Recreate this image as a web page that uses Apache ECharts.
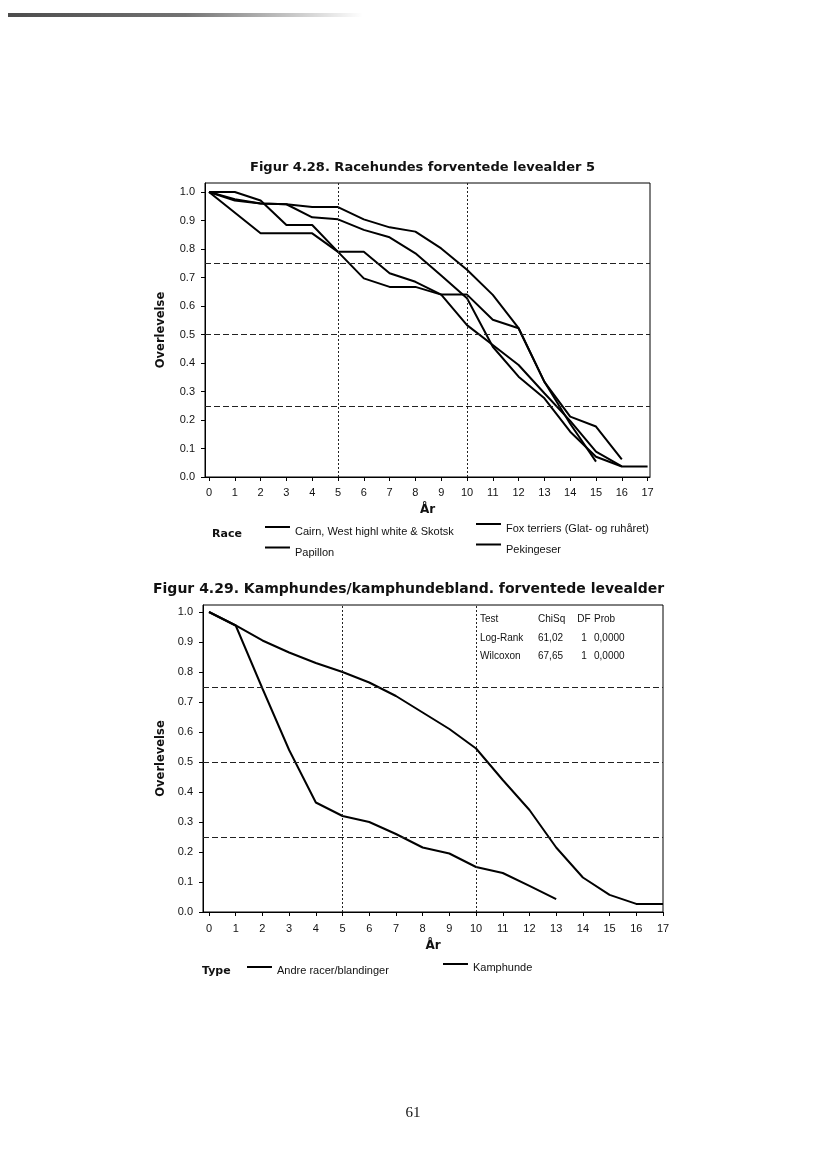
<!DOCTYPE html>
<html>
<head>
<meta charset="utf-8">
<script src="https://cdn.jsdelivr.net/npm/echarts@6.0.0/dist/echarts.min.js"></script>
<style>
html,body{margin:0;padding:0;background:#ffffff;}
#c{width:826px;height:1169px;}
</style>
</head>
<body>
<div id="c"></div>
<script>
// ---------- data ----------
const xTickValues = [0,1,2,3,4,5,6,7,8,9,10,11,12,13,14,15,16,17];
const yTickValues = [0,0.1,0.2,0.3,0.4,0.5,0.6,0.7,0.8,0.9,1.0];
const refSurvival = [0.25, 0.5, 0.75];
const refAges = [5, 10];

// Figur 4.28
const title1 = 'Figur 4.28. Racehundes forventede levealder 5';
const cairnName = 'Cairn, West highl white & Skotsk';
const foxName = 'Fox terriers (Glat- og ruhåret)';
const papillonName = 'Papillon';
const pekingName = 'Pekingeser';

const cairnAges = [0,2,3,4,5,6,7,8,9,10,11,12,13,14,15,16];
const cairnSurv = [1.0,0.855,0.855,0.855,0.79,0.79,0.715,0.685,0.64,0.64,0.552,0.522,0.334,0.212,0.177,0.062];
const papillonAges = [0,1,2,3,4,5,6,7,8,9,10,11,12,13,14,15,16,17];
const papillonSurv = [1.0,1.0,0.97,0.884,0.884,0.79,0.697,0.667,0.667,0.64,0.533,0.463,0.393,0.294,0.197,0.089,0.037,0.037];
const foxAges = [0,1,2,3,4,5,6,7,8,9,10,11,12,13,14,15,16];
const foxSurv = [1.0,0.975,0.96,0.957,0.911,0.904,0.867,0.841,0.785,0.707,0.627,0.457,0.352,0.276,0.159,0.071,0.037];
const pekingAges = [0,1,2,3,4,5,6,7,8,9,10,11,12,13,14,15];
const pekingSurv = [1.0,0.97,0.96,0.957,0.947,0.947,0.904,0.876,0.861,0.802,0.727,0.639,0.522,0.334,0.187,0.054];

// Figur 4.29
const title2 = 'Figur 4.29. Kamphundes/kamphundebland. forventede levealder';
const andreName = 'Andre racer/blandinger';
const kampName = 'Kamphunde';
const andreAges = [0,1,2,3,4,5,6,7,8,9,10,11,12,13,14,15,16,17];
const andreSurv = [1.0,0.955,0.905,0.865,0.83,0.80,0.765,0.72,0.665,0.61,0.545,0.44,0.34,0.215,0.115,0.057,0.027,0.027];
const kampAges = [0,1,2,3,4,5,6,7,8,9,10,11,12,13];
const kampSurv = [1.0,0.955,0.745,0.54,0.365,0.32,0.30,0.26,0.215,0.195,0.15,0.13,0.087,0.043];

const testHeader = ['Test','ChiSq','DF','Prob'];
const testRows = [['Log-Rank','61,02','1','0,0000'],['Wilcoxon','67,65','1','0,0000']];

const xName = 'År';
const yName = 'Overlevelse';
const pageNumber = '61';

// ---------- chart ----------
const chart = echarts.init(document.getElementById('c'), null, {renderer:'canvas', width:826, height:1169});

const TXT = '#111';
const labelFont = {fontFamily:'Liberation Sans, Arial, sans-serif', fontSize:11, color:TXT};
const boldFont = {fontFamily:'DejaVu Sans, Verdana, sans-serif', fontWeight:'bold', color:TXT};

function xAxisDef(g, min, max, margin, nameGap){
  return {
    type:'value', gridIndex:g, min:min, max:max,
    axisLine:{show:true, onZero:false, lineStyle:{color:'#000', width:1}},
    axisTick:{show:true, customValues:xTickValues, length:4, lineStyle:{color:'#000', width:1}},
    axisLabel:Object.assign({show:true, customValues:xTickValues, margin:margin, formatter:v=>String(Math.round(v))}, labelFont),
    splitLine:{show:false},
    name:xName, nameLocation:'middle', nameGap:nameGap, nameMoveOverlap:false,
    nameTextStyle:Object.assign({fontSize:12}, boldFont)
  };
}
function yAxisDef(g, max, nameGap){
  return {
    type:'value', gridIndex:g, min:0, max:max,
    axisLine:{show:true, onZero:false, lineStyle:{color:'#000', width:1}},
    axisTick:{show:true, customValues:yTickValues, length:4, lineStyle:{color:'#000', width:1}},
    axisLabel:Object.assign({show:true, customValues:yTickValues, margin:10, formatter:v=>v.toFixed(1)}, labelFont),
    splitLine:{show:false},
    name:yName, nameLocation:'middle', nameRotate:90, nameGap:nameGap, nameMoveOverlap:false,
    nameTextStyle:Object.assign({fontSize:11.5}, boldFont)
  };
}
function refLines(){
  return {
    silent:true, symbol:['none','none'], label:{show:false}, animation:false,
    emphasis:{disabled:true},
    data:[].concat(
      refSurvival.map(v=>({yAxis:v, lineStyle:{type:[6,3], color:'#222', width:1}})),
      refAges.map(v=>({xAxis:v, lineStyle:{type:[2,2], color:'#222', width:1}}))
    )
  };
}
function survSeries(name, ages, surv, g, withRefs){
  const s = {
    name:name, type:'line', xAxisIndex:g, yAxisIndex:g,
    data:ages.map((a,i)=>[a, surv[i]]),
    symbol:'none', showSymbol:false, silent:true, animation:false,
    lineStyle:{color:'#000', width:2}, itemStyle:{color:'#000'},
    emphasis:{disabled:true}, z:3
  };
  if (withRefs) s.markLine = refLines();
  return s;
}
const icon12 = 'path://M0,0H25V2H0Z M0,12H0.01V12.01H0Z';
const icon10 = 'path://M0,0H25V2H0Z M0,10H0.01V10.01H0Z';
function legendDef(names, left, top, orient, icon, ih){
  return {
    data:names, left:left, top:top, orient:orient, padding:0,
    itemWidth:25, itemHeight:ih, itemGap:7.5, icon:icon, selectedMode:false,
    itemStyle:{color:'#000', borderWidth:0},
    textStyle:Object.assign({lineHeight:13}, labelFont)
  };
}

// test table as text
const tableX = [480, 538, 584, 594];
const tableAlign = ['left','left','center','left'];
const tableY = [619, 638, 656];
const tableGraphics = [];
[testHeader].concat(testRows).forEach((row, r)=>{
  row.forEach((cell, c)=>{
    tableGraphics.push({type:'text', x:tableX[c], y:tableY[r], silent:true,
      style:{text:cell, fill:TXT, font:'10px "Liberation Sans", Arial, sans-serif', textAlign:tableAlign[c], textVerticalAlign:'middle'}});
  });
});

const option = {
  backgroundColor:'#ffffff',
  animation:false,
  title:[
    {text:title1, left:250, top:161, padding:0, textStyle:Object.assign({fontSize:13}, boldFont)},
    {text:title2, left:153, top:582, padding:0, textStyle:Object.assign({fontSize:14}, boldFont)},
    {text:'Race', left:212, top:528.5, padding:0, textStyle:Object.assign({fontSize:11}, boldFont)},
    {text:'Type', left:202, top:965.5, padding:0, textStyle:Object.assign({fontSize:11}, boldFont)},
    {text:pageNumber, left:'center', top:1106, padding:0, textStyle:{fontFamily:'Liberation Serif, Times New Roman, serif', fontSize:15, fontWeight:'normal', color:TXT}}
  ],
  legend:[
    legendDef([cairnName, papillonName], 265, 525.5, 'vertical', icon12, 12),
    legendDef([foxName, pekingName], 476, 522.5, 'vertical', icon12, 12),
    legendDef([andreName], 247, 964.5, 'horizontal', icon10, 10),
    legendDef([kampName], 443, 961.5, 'horizontal', icon10, 10)
  ],
  grid:[
    {left:205, top:183, width:445, height:294, show:true, borderColor:'#000', borderWidth:1, backgroundColor:'transparent', containLabel:false},
    {left:203, top:605, width:460, height:307, show:true, borderColor:'#000', borderWidth:1, backgroundColor:'transparent', containLabel:false}
  ],
  xAxis:[
    xAxisDef(0, -0.155, 17.093, 10, 27),
    xAxisDef(1, -0.225, 17, 11.5, 28)
  ],
  yAxis:[
    yAxisDef(0, 1.0316, 38),
    yAxisDef(1, 1.0233, 36)
  ],
  series:[
    survSeries(cairnName, cairnAges, cairnSurv, 0, true),
    survSeries(foxName, foxAges, foxSurv, 0, false),
    survSeries(papillonName, papillonAges, papillonSurv, 0, false),
    survSeries(pekingName, pekingAges, pekingSurv, 0, false),
    survSeries(andreName, andreAges, andreSurv, 1, true),
    survSeries(kampName, kampAges, kampSurv, 1, false)
  ],
  graphic:[
    {type:'rect', silent:true, shape:{x:8, y:13, width:355, height:4},
     style:{fill:{type:'linear', x:0, y:0, x2:1, y2:0, colorStops:[
       {offset:0, color:'rgba(0,0,0,0.7)'}, {offset:0.5, color:'rgba(0,0,0,0.55)'}, {offset:1, color:'rgba(0,0,0,0)'}]}}}
  ].concat(tableGraphics)
};
chart.setOption(option);
</script>
</body>
</html>
